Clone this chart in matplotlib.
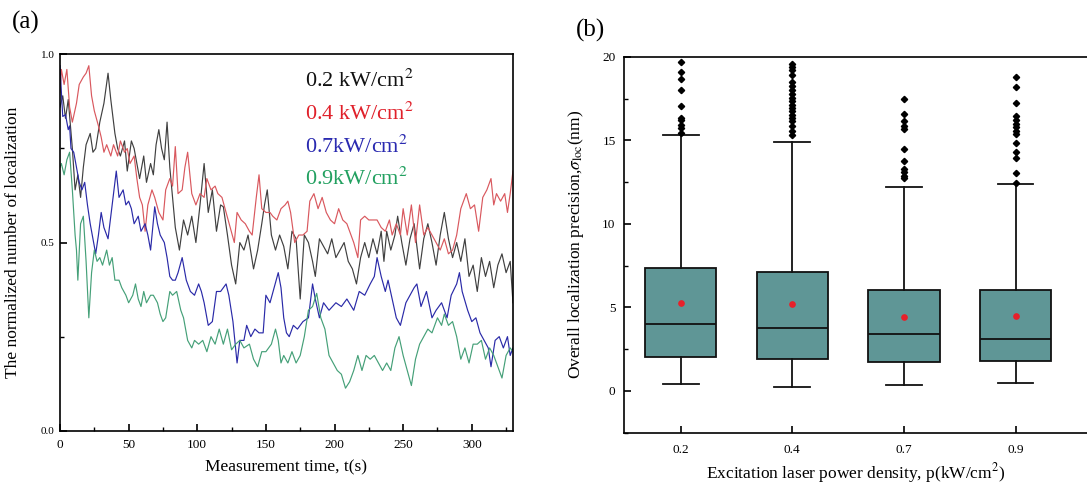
import matplotlib
matplotlib.use('Agg')
import matplotlib.pyplot as plt
from matplotlib.ticker import MultipleLocator, FormatStrFormatter

plt.rcParams['font.family'] = ['Liberation Serif', 'DejaVu Serif']
plt.rcParams['mathtext.fontset'] = 'stix'

# ---- panel (a): normalized localization number vs time ----
t_02 = [0, 2, 4, 6, 9, 11, 13, 15, 17, 19, 22, 24, 26, 29, 32, 35, 37, 40, 42, 44,
        47, 49, 52, 54, 56, 58, 61, 63, 66, 68, 70, 72, 74, 76, 78, 80, 82, 84, 87, 90,
        93, 96, 99, 102, 105, 108, 111, 114, 117, 119, 122, 125, 128, 131, 134, 137, 141, 144, 147, 149,
        151, 154, 157, 160, 163, 166, 169, 172, 175, 178, 181, 184, 186, 189, 192, 195, 198, 201, 204, 207,
        210, 213, 216, 219, 222, 225, 228, 231, 234, 236, 238, 241, 244, 246, 249, 252, 255, 258, 262, 265,
        268, 271, 274, 277, 280, 283, 286, 289, 292, 295, 298, 301, 304, 307, 310, 313, 316, 319, 322, 325,
        328, 330]
v_02 = [0.86, 0.89, 0.83, 0.88, 0.75, 0.64, 0.68, 0.62, 0.70, 0.76, 0.79, 0.74, 0.75, 0.82, 0.87, 0.95, 0.88, 0.79, 0.75, 0.73,
        0.77, 0.69, 0.77, 0.75, 0.71, 0.67, 0.73, 0.66, 0.71, 0.68, 0.76, 0.80, 0.75, 0.72, 0.82, 0.70, 0.62, 0.54, 0.48, 0.56,
        0.52, 0.57, 0.50, 0.60, 0.71, 0.58, 0.64, 0.53, 0.60, 0.595, 0.52, 0.44, 0.39, 0.50, 0.48, 0.52, 0.43, 0.48, 0.55, 0.60,
        0.64, 0.52, 0.48, 0.52, 0.49, 0.43, 0.53, 0.51, 0.35, 0.52, 0.50, 0.45, 0.41, 0.51, 0.49, 0.47, 0.51, 0.46, 0.48, 0.50,
        0.45, 0.43, 0.39, 0.46, 0.50, 0.46, 0.51, 0.47, 0.53, 0.45, 0.53, 0.48, 0.52, 0.57, 0.50, 0.44, 0.51, 0.55, 0.43, 0.51,
        0.55, 0.50, 0.44, 0.52, 0.58, 0.51, 0.46, 0.50, 0.45, 0.51, 0.41, 0.44, 0.37, 0.46, 0.41, 0.45, 0.38, 0.44, 0.47, 0.42,
        0.45, 0.34]

t_04 = [0, 1, 3, 5, 7, 9, 12, 14, 17, 19, 21, 23, 25, 28, 30, 32, 34, 37, 39, 42,
        44, 47, 49, 51, 54, 56, 58, 60, 62, 64, 67, 69, 72, 75, 77, 80, 82, 84, 86, 89,
        91, 93, 96, 99, 102, 105, 107, 110, 113, 115, 118, 121, 124, 127, 129, 132, 135, 138, 140, 143,
        145, 147, 150, 153, 155, 158, 161, 164, 166, 168, 171, 174, 177, 180, 182, 185, 188, 191, 194, 197,
        200, 203, 206, 209, 212, 214, 217, 219, 222, 225, 228, 231, 234, 237, 240, 242, 245, 248, 250, 253,
        256, 259, 262, 265, 268, 271, 274, 277, 280, 283, 286, 289, 292, 296, 299, 302, 305, 308, 311, 314,
        316, 318, 321, 324, 326, 328, 330]
v_04 = [0.90, 0.96, 0.92, 0.96, 0.86, 0.82, 0.87, 0.92, 0.94, 0.95, 0.97, 0.89, 0.85, 0.81, 0.78, 0.74, 0.76, 0.73, 0.76, 0.73,
        0.77, 0.74, 0.75, 0.71, 0.73, 0.67, 0.62, 0.60, 0.53, 0.60, 0.64, 0.62, 0.58, 0.56, 0.64, 0.67, 0.65, 0.755, 0.63, 0.64,
        0.70, 0.74, 0.63, 0.60, 0.63, 0.62, 0.67, 0.64, 0.65, 0.63, 0.62, 0.58, 0.54, 0.50, 0.58, 0.56, 0.55, 0.53, 0.52, 0.62,
        0.68, 0.59, 0.58, 0.58, 0.57, 0.56, 0.59, 0.60, 0.61, 0.58, 0.50, 0.52, 0.52, 0.53, 0.61, 0.63, 0.59, 0.62, 0.58, 0.56,
        0.55, 0.59, 0.56, 0.55, 0.52, 0.50, 0.46, 0.56, 0.57, 0.56, 0.56, 0.56, 0.54, 0.53, 0.56, 0.52, 0.55, 0.52, 0.59, 0.52,
        0.60, 0.50, 0.60, 0.52, 0.54, 0.52, 0.50, 0.48, 0.51, 0.47, 0.48, 0.52, 0.59, 0.63, 0.59, 0.60, 0.53, 0.62, 0.64, 0.67,
        0.60, 0.63, 0.61, 0.63, 0.58, 0.63, 0.69]

t_07 = [0, 1, 2, 4, 6, 7, 8, 10, 12, 14, 16, 18, 20, 22, 24, 26, 28, 30, 32, 35,
        37, 40, 41, 43, 46, 48, 50, 52, 54, 57, 59, 62, 64, 66, 69, 71, 73, 76, 78, 80,
        82, 84, 86, 89, 92, 95, 98, 101, 103, 105, 108, 111, 114, 117, 119, 121, 123, 126, 129, 131,
        134, 136, 139, 142, 145, 148, 150, 153, 156, 159, 161, 163, 165, 167, 170, 173, 177, 181, 184, 186,
        189, 192, 196, 201, 205, 209, 214, 218, 222, 226, 229, 231, 234, 237, 239, 242, 245, 248, 252, 255,
        258, 260, 263, 267, 271, 274, 278, 282, 285, 289, 291, 293, 297, 300, 303, 306, 309, 312, 314, 317,
        320, 323, 326, 328, 330]
v_07 = [0.97, 0.90, 0.835, 0.84, 0.80, 0.81, 0.75, 0.74, 0.70, 0.66, 0.64, 0.66, 0.60, 0.55, 0.51, 0.47, 0.52, 0.58, 0.54, 0.51,
        0.57, 0.66, 0.69, 0.62, 0.64, 0.60, 0.61, 0.59, 0.55, 0.57, 0.53, 0.55, 0.52, 0.48, 0.595, 0.55, 0.52, 0.50, 0.46, 0.41,
        0.40, 0.40, 0.42, 0.46, 0.40, 0.37, 0.36, 0.39, 0.37, 0.34, 0.28, 0.29, 0.37, 0.37, 0.38, 0.39, 0.36, 0.29, 0.18, 0.24,
        0.24, 0.28, 0.25, 0.27, 0.26, 0.26, 0.36, 0.34, 0.38, 0.42, 0.38, 0.30, 0.26, 0.25, 0.28, 0.27, 0.29, 0.30, 0.39, 0.35,
        0.30, 0.34, 0.32, 0.34, 0.33, 0.35, 0.32, 0.37, 0.36, 0.39, 0.41, 0.46, 0.41, 0.37, 0.40, 0.35, 0.30, 0.28, 0.34, 0.36,
        0.38, 0.39, 0.33, 0.37, 0.30, 0.32, 0.34, 0.30, 0.36, 0.39, 0.42, 0.37, 0.32, 0.29, 0.30, 0.26, 0.24, 0.22, 0.17, 0.24,
        0.25, 0.22, 0.25, 0.20, 0.22]

t_09 = [0, 1, 3, 5, 7, 9, 11, 12, 13, 15, 17, 19, 21, 23, 25, 27, 29, 31, 34, 36,
        38, 40, 43, 45, 48, 50, 53, 55, 57, 59, 61, 63, 66, 68, 71, 73, 75, 77, 80, 82,
        85, 88, 90, 93, 96, 98, 101, 104, 107, 110, 113, 116, 119, 122, 125, 128, 131, 134, 138, 141,
        144, 147, 150, 154, 157, 159, 161, 163, 166, 169, 172, 175, 178, 181, 184, 187, 190, 193, 196, 199,
        202, 205, 208, 211, 214, 217, 220, 223, 226, 229, 232, 235, 238, 241, 244, 247, 250, 253, 256, 259,
        262, 265, 268, 271, 275, 278, 280, 283, 286, 289, 292, 295, 298, 301, 304, 307, 310, 313, 316, 319,
        322, 325, 328, 330]
v_09 = [0.70, 0.71, 0.68, 0.72, 0.74, 0.64, 0.52, 0.48, 0.40, 0.55, 0.57, 0.45, 0.30, 0.42, 0.48, 0.45, 0.46, 0.44, 0.48, 0.44,
        0.46, 0.40, 0.40, 0.38, 0.36, 0.34, 0.36, 0.39, 0.35, 0.33, 0.37, 0.34, 0.36, 0.36, 0.34, 0.31, 0.29, 0.30, 0.37, 0.36,
        0.37, 0.32, 0.30, 0.24, 0.22, 0.24, 0.23, 0.24, 0.21, 0.25, 0.23, 0.27, 0.23, 0.27, 0.215, 0.23, 0.24, 0.22, 0.23, 0.19,
        0.17, 0.21, 0.21, 0.23, 0.27, 0.24, 0.18, 0.20, 0.18, 0.21, 0.18, 0.20, 0.25, 0.32, 0.33, 0.365, 0.30, 0.27, 0.20, 0.18,
        0.16, 0.15, 0.113, 0.13, 0.16, 0.20, 0.16, 0.20, 0.19, 0.20, 0.18, 0.16, 0.18, 0.16, 0.22, 0.25, 0.20, 0.16, 0.12, 0.19,
        0.23, 0.25, 0.27, 0.26, 0.30, 0.28, 0.31, 0.28, 0.29, 0.25, 0.19, 0.22, 0.18, 0.23, 0.23, 0.24, 0.19, 0.22, 0.20, 0.17,
        0.14, 0.20, 0.22, 0.21]

series = [
    (t_02, v_02, '#404040', '#111111', '0.2 kW/cm$^2$'),
    (t_04, v_04, '#d9585e', '#e0202a', '0.4 kW/cm$^2$'),
    (t_07, v_07, '#2a2aa8', '#2a2ab0', '0.7kW/cm$^2$'),
    (t_09, v_09, '#45a078', '#22a060', '0.9kW/cm$^2$'),
]

# ---- panel (b): box statistics ----
powers = ['0.2', '0.4', '0.7', '0.9']
q1 = [2.04, 1.94, 1.72, 1.78]
med = [3.98, 3.78, 3.38, 3.10]
q3 = [7.37, 7.12, 6.02, 6.02]
whis_lo = [0.44, 0.24, 0.34, 0.48]
whis_hi = [15.33, 14.93, 12.23, 12.37]
means = [5.24, 5.18, 4.44, 4.46]
fliers = [
    [19.67, 19.07, 18.69, 18.03, 17.07, 16.33, 16.2, 15.93, 15.73, 15.43],
    [19.57, 19.42, 19.23, 18.93, 18.47, 18.27, 18.03, 17.79, 17.53, 17.33, 17.13,
     16.93, 16.73, 16.53, 16.33, 16.13, 15.87, 15.59, 15.33],
    [17.49, 16.57, 16.13, 15.87, 15.67, 14.47, 13.77, 13.29, 13.09, 12.89, 12.73],
    [18.81, 18.17, 17.23, 16.43, 16.19, 15.99, 15.79, 15.59, 15.39, 14.87, 14.33,
     13.93, 13.03, 12.43],
]

fig = plt.figure(figsize=(10.87, 4.90), dpi=100)

# panel (a)
ax1 = fig.add_axes([0.0552, 0.121, 0.4167, 0.768])
for t, v, c, lc, lab in series:
    ax1.plot(t, v, color=c, lw=0.85)
ax1.set_xlim(0, 330)
ax1.set_ylim(0, 1.0)
ax1.xaxis.set_major_locator(MultipleLocator(50))
ax1.xaxis.set_minor_locator(MultipleLocator(25))
ax1.yaxis.set_major_locator(MultipleLocator(0.5))
ax1.yaxis.set_minor_locator(MultipleLocator(0.25))
ax1.yaxis.set_major_formatter(FormatStrFormatter('%.1f'))
ax1.tick_params(which='both', direction='in', top=False, right=False)
ax1.tick_params(which='major', length=5, width=1.2)
ax1.tick_params(which='minor', length=3, width=1.0)
ax1.tick_params(axis='x', labelsize=9.5, pad=6)
ax1.tick_params(axis='y', labelsize=8, pad=4)
for s in ax1.spines.values():
    s.set_linewidth(1.2)
ax1.set_xlabel('Measurement time, t(s)', fontsize=12.5, labelpad=6)
ax1.set_ylabel('The normalized number of localization', fontsize=12.5, labelpad=14)
for i, (t, v, c, lc, lab) in enumerate(series):
    ax1.text(0.54, 0.93 - i * 0.087, lab, color=lc, fontsize=16,
             transform=ax1.transAxes, va='center', ha='left')

# panel (b)
ax2 = fig.add_axes([0.574, 0.117, 0.426, 0.767])
pos = list(range(1, len(powers) + 1))
stats = []
for i in range(len(powers)):
    stats.append(dict(med=med[i], q1=q1[i], q3=q3[i], whislo=whis_lo[i],
                      whishi=whis_hi[i], mean=means[i], fliers=fliers[i]))
ax2.bxp(stats, positions=pos, widths=0.64, capwidths=0.32, showmeans=True,
        patch_artist=True,
        boxprops=dict(facecolor='#5f9696', edgecolor='#111111', linewidth=1.3),
        medianprops=dict(color='#111111', linewidth=1.3),
        whiskerprops=dict(color='#111111', linewidth=1.3),
        capprops=dict(color='#111111', linewidth=1.3),
        flierprops=dict(marker='D', markerfacecolor='black', markeredgecolor='black',
                        markersize=3.2),
        meanprops=dict(marker='o', markerfacecolor='#e8202a', markeredgecolor='#e8202a',
                       markersize=3.8))
ax2.set_xlim(0.492, 4.64)
ax2.set_ylim(-2.5, 20)
ax2.set_xticks(pos)
ax2.set_xticklabels(powers)
ax2.yaxis.set_major_locator(MultipleLocator(5))
ax2.yaxis.set_minor_locator(MultipleLocator(2.5))
ax2.tick_params(which='both', direction='in', top=False, right=False)
ax2.tick_params(which='major', length=5, width=1.2)
ax2.tick_params(which='minor', length=3, width=1.0)
ax2.tick_params(axis='x', labelsize=9.5, pad=8)
ax2.tick_params(axis='y', labelsize=9.5, pad=6)
ax2.spines['right'].set_visible(False)
for s in ax2.spines.values():
    s.set_linewidth(1.2)
ax2.set_xlabel('Excitation laser power density, p(kW/cm$^2$)', fontsize=12.5, labelpad=4)
ax2.set_ylabel(r'Overall localization precision,$\sigma_{\rm loc}$(nm)', fontsize=12.5, labelpad=12)

fig.text(0.011, 0.955, '(a)', fontsize=18, va='center', ha='left')
fig.text(0.530, 0.937, '(b)', fontsize=18, va='center', ha='left')

plt.savefig('out.png', dpi=100)
plt.close()
